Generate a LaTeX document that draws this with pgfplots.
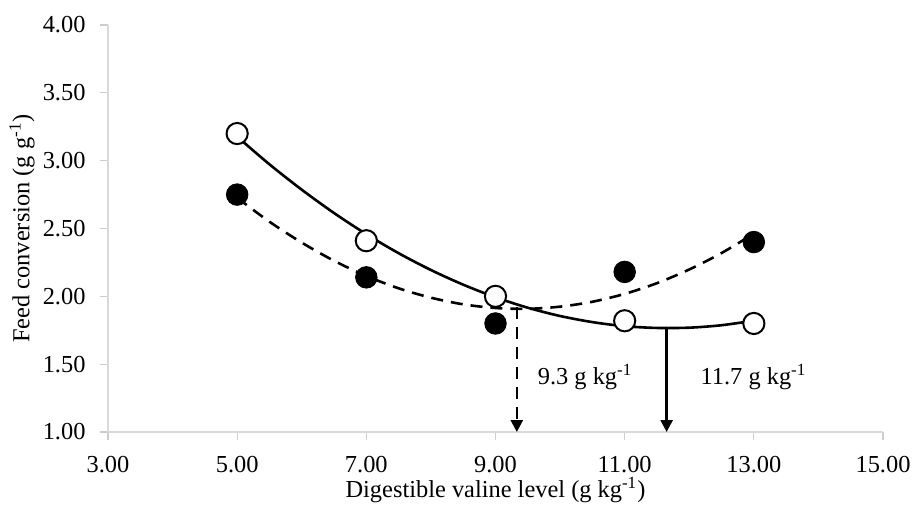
\documentclass[border=0pt]{standalone}
\usepackage{fontspec}
\setmainfont{Liberation Serif}
\usepackage{pgfplots}
\pgfplotsset{compat=1.18}
\usetikzlibrary{arrows.meta}
\begin{document}
\fontsize{12.2pt}{14pt}\selectfont
\begin{tikzpicture}
\begin{axis}[
  at={(0,0)}, anchor=south west,
  scale only axis, width=387.5pt, height=203.5pt,
  xmin=3, xmax=15, ymin=1, ymax=4,
  xtick={3,5,7,9,11,13,15},
  ytick={1,1.5,2,2.5,3,3.5,4},
  axis x line*=bottom, axis y line*=left,
  axis line style={draw=black!15, line width=0.6pt, -},
  tick align=outside,
  major tick length=4pt,
  tick style={draw=black!20, line width=0.6pt},
  /pgf/number format/.cd, fixed, fixed zerofill, precision=2, assume math mode=true,
  /pgfplots/.cd,
  ticklabel style={font=\fontsize{12.2pt}{14pt}\selectfont},
  xticklabel style={yshift=-4pt},
  yticklabel style={xshift=-3pt},
  xlabel={Digestible valine level (g kg\textsuperscript{-1})},
  ylabel={Feed conversion (g g\textsuperscript{-1})},
  xlabel style={at={(axis description cs:0.5,-0.1425)}, anchor=center},
  ylabel style={at={(axis description cs:-0.111,0.5)}, anchor=center},
  clip=false,
]
% fitted curve, open circles (solid)
\addplot[black, line width=1.3pt, smooth] coordinates {
(5,3.177)(5.5,2.973)(6,2.786)(6.5,2.614)(7,2.458)(7.5,2.318)(8,2.194)(8.5,2.086)
(9,1.993)(9.5,1.916)(10,1.855)(10.5,1.810)(11,1.780)(11.5,1.767)(12,1.769)(12.5,1.787)(13,1.821)};
% fitted curve, filled circles (dashed)
\addplot[black, line width=1.3pt, smooth, dash pattern=on 6pt off 4pt] coordinates {
(5,2.726)(5.5,2.550)(6,2.396)(6.5,2.262)(7,2.150)(7.5,2.059)(8,1.990)(8.5,1.941)
(9,1.914)(9.5,1.908)(10,1.924)(10.5,1.960)(11,2.018)(11.5,2.097)(12,2.198)(12.5,2.319)(13,2.462)};
% arrows
\addplot[black, line width=1.3pt, dash pattern=on 6pt off 4pt, -{Triangle[width=6pt,length=6pt]}] coordinates {(9.33,1.92)(9.33,1.0)};
\addplot[black, line width=1.3pt, -{Triangle[width=6pt,length=6pt]}] coordinates {(11.65,1.77)(11.65,1.0)};
% data
\addplot[only marks, mark=*, mark size=5.3pt, mark options={fill=white, draw=black, line width=1pt, solid}] coordinates {
(5,3.20)(7,2.41)(9,2.00)(11,1.82)(13,1.80)};
\addplot[only marks, mark=*, mark size=5.4pt, mark options={fill=black, draw=black, solid}] coordinates {
(5,2.75)(7,2.14)(9,1.80)(11,2.18)(13,2.40)};
\node[anchor=base west, inner sep=0] at (axis cs:9.65,1.35) {9.3 g kg\textsuperscript{-1}};
\node[anchor=base west, inner sep=0] at (axis cs:12.17,1.35) {11.7 g kg\textsuperscript{-1}};
\end{axis}
\pgfresetboundingbox
\path (-54pt,-38.5pt) rectangle (403pt,216pt);
\end{tikzpicture}
\end{document}
